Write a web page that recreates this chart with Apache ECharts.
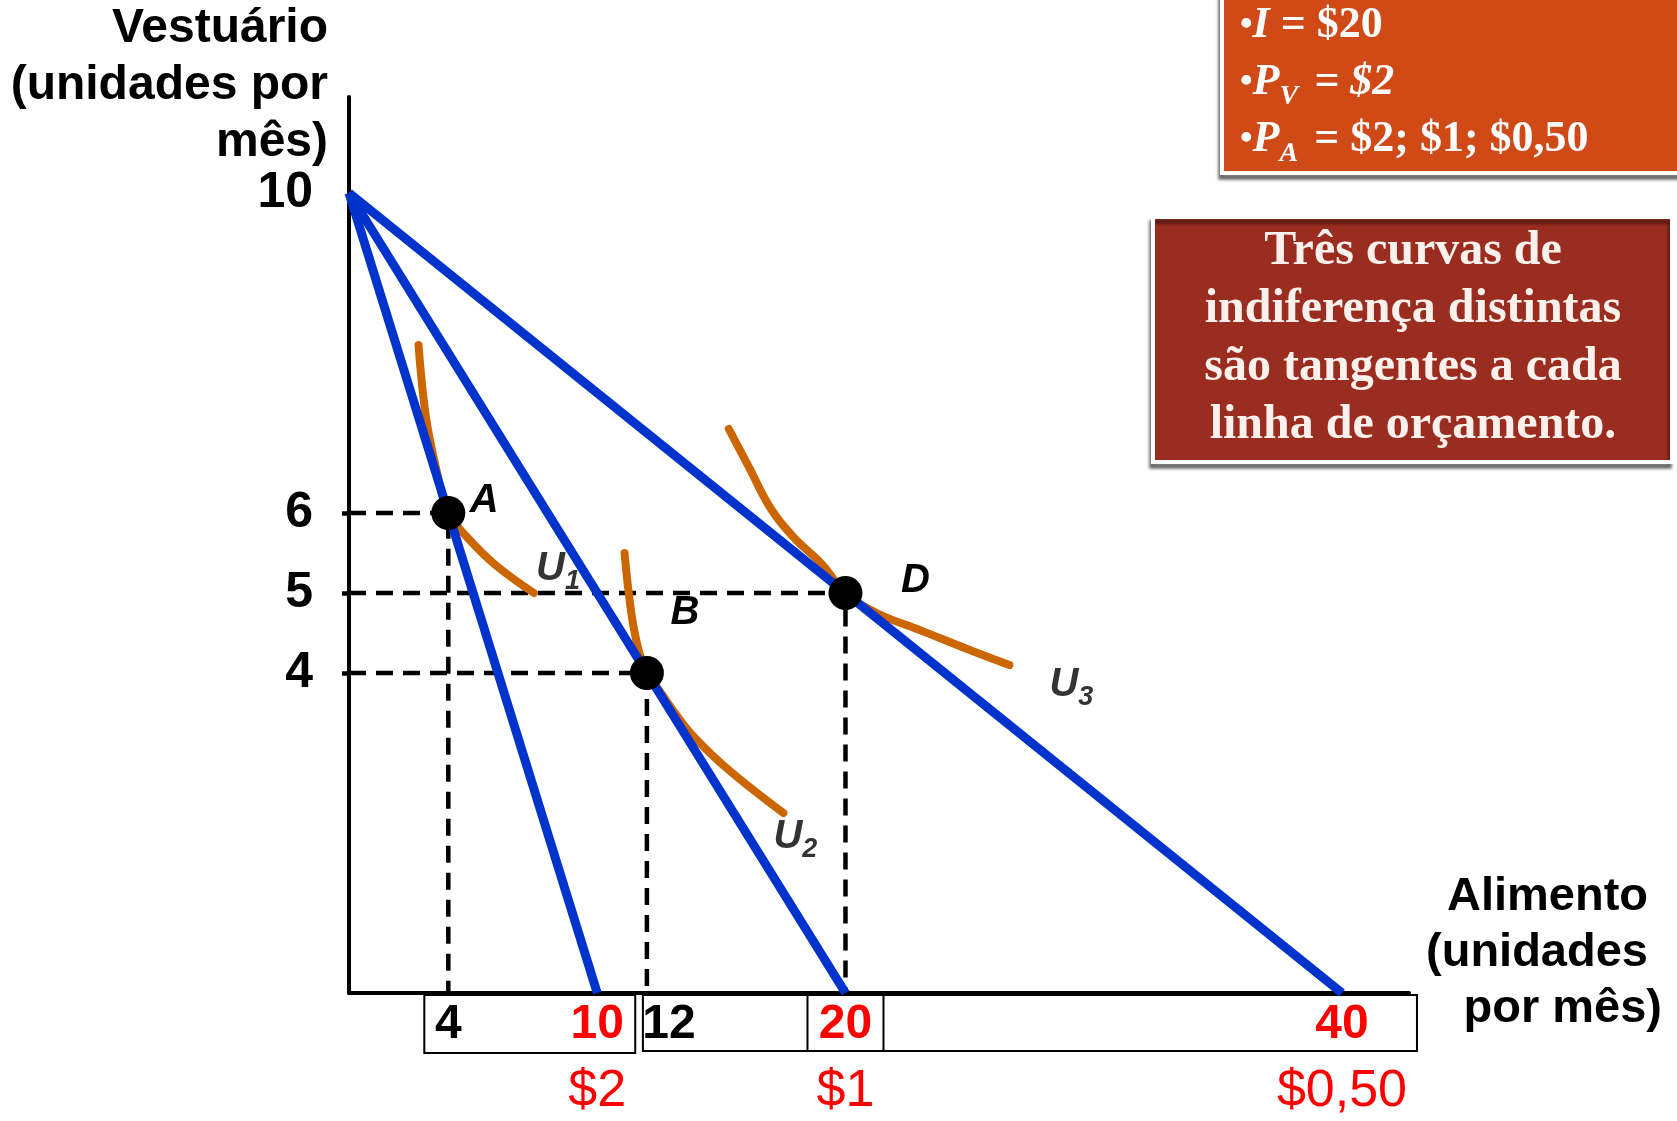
<!DOCTYPE html>
<html>
<head>
<meta charset="utf-8">
<title>Efeito de uma variação no preço do alimento</title>
<script src="https://cdn.jsdelivr.net/npm/echarts@6.0.0/dist/echarts.min.js"></script>
<style>
  html, body { margin: 0; padding: 0; background: #fff; }
  #chart { width: 1677px; height: 1121px; }
</style>
</head>
<body>
<div id="chart"></div>
<script>
// budget lines: all start at 10 units of clothing, end on the food axis
const clothingIntercept = 10
const foodIntercepts = [10, 20, 40]
const priceLabels = ['$2', '$1', '$0,50']

// chosen baskets
const pointNames = ['A', 'B', 'D']
const pointFood = [4, 12, 20]
const pointClothing = [6, 4, 5]

// indifference curves [food, clothing]
const u1 = [[2.8, 8.1], [3.1, 7.2], [3.55, 6.5], [4, 6], [4.75, 5.7], [5.9, 5.35], [7.45, 5.0]]
const u2 = [[11.1, 5.5], [11.25, 5.05], [11.45, 4.6], [11.7, 4.25], [12, 4], [12.5, 3.78], [13.2, 3.47], [13.9, 3.2], [15.25, 2.8], [17.5, 2.25]]
const u3 = [[15.3, 7.05], [16.1, 6.58], [17.0, 6.05], [17.9, 5.7], [19.05, 5.36], [20, 5], [21.25, 4.75], [23.05, 4.53], [24.9, 4.3], [26.6, 4.1]]
const curveNames = ['1', '2', '3']

// tick labels
const xTicks = [4, 10, 12, 20, 40]
const yTicks = [4, 5, 6, 10]
const yDashTicks = [4, 5, 6]

const BLUE = '#0033CC'
const ORANGE = '#CC6600'
const SANS = '"Liberation Sans", Arial, sans-serif'
const SERIF = '"Liberation Serif", "Times New Roman", serif'

const pointLabelOffsets = [[36, -12], [38, -60], [70, -12]]
const curveLabelOffsets = [[24, -24], [12, 24], [62, 20]]

const chart = echarts.init(document.getElementById('chart'))

const guideSeries = pointNames.map((n, i) => ({
  type: 'line',
  silent: true,
  symbol: 'none',
  z: 1,
  data: [[0, pointClothing[i]], [pointFood[i], pointClothing[i]], [pointFood[i], 0]],
  lineStyle: { color: '#000', width: 4.5, type: [17, 10] }
}))

const budgetSeries = foodIntercepts.map(end => ({
  type: 'line',
  symbol: 'none',
  z: 4,
  data: [[0, clothingIntercept], [end, 0]],
  lineStyle: { color: BLUE, width: 9 }
}))

const curveSeries = [u1, u2, u3].map(c => ({
  type: 'line',
  symbol: 'none',
  smooth: 0.4,
  z: 3,
  data: c,
  lineStyle: { color: ORANGE, width: 8, cap: 'round' }
}))

const curveLabelSeries = [u1, u2, u3].map((c, i) => ({
  type: 'scatter',
  symbolSize: 0,
  z: 6,
  data: [c[c.length - 1]],
  label: {
    show: true,
    position: 'inside',
    offset: curveLabelOffsets[i],
    formatter: () => `{u|U}{s|${curveNames[i]}}`,
    rich: {
      u: { fontFamily: SANS, fontWeight: 'bold', fontStyle: 'italic', fontSize: 40, color: '#000', verticalAlign: 'middle', lineHeight: 52 },
      s: { fontFamily: SANS, fontWeight: 'bold', fontStyle: 'italic', fontSize: 27, color: '#000', verticalAlign: 'bottom', lineHeight: 52 }
    }
  }
}))

const pointSeries = {
  type: 'scatter',
  symbolSize: 34,
  z: 5,
  itemStyle: { color: '#000', opacity: 1 },
  data: pointNames.map((n, i) => ({
    name: n,
    value: [pointFood[i], pointClothing[i]],
    label: { offset: pointLabelOffsets[i] }
  })),
  label: {
    show: true,
    position: 'inside',
    formatter: p => p.name,
    color: '#000',
    fontFamily: SANS,
    fontWeight: 'bold',
    fontStyle: 'italic',
    fontSize: 40
  }
}

chart.setOption({
  animation: false,
  grid: { left: 349, right: 268, top: 97, bottom: 128, containLabel: false },
  xAxis: {
    type: 'value',
    min: 0,
    max: 42.7,
    splitLine: { show: false },
    axisLine: { lineStyle: { color: '#000', width: 4 } },
    axisTick: { show: false },
    axisLabel: {
      customValues: xTicks,
      margin: 6,
      formatter: v => {
        const i = foodIntercepts.indexOf(v)
        if (i >= 0) return `{red|${v}}\n{price|${priceLabels[i]}}`
        return v === 12 ? `{shift|${v}}` : `{black|${v}}`
      },
      rich: {
        black: { fontFamily: SANS, fontWeight: 'bold', fontSize: 48, color: '#000', lineHeight: 52 },
        shift: { fontFamily: SANS, fontWeight: 'bold', fontSize: 48, color: '#000', lineHeight: 52, padding: [0, 0, 0, 44] },
        red: { fontFamily: SANS, fontWeight: 'bold', fontSize: 48, color: '#FF0000', lineHeight: 52 },
        price: { fontFamily: SANS, fontSize: 52, color: '#FF0000', lineHeight: 82 }
      }
    }
  },
  yAxis: {
    type: 'value',
    min: 0,
    max: 11.2,
    splitLine: { show: false },
    axisLine: { lineStyle: { color: '#000', width: 4 } },
    axisTick: { show: true, customValues: yDashTicks, length: 7, lineStyle: { color: '#000', width: 4.5 } },
    axisLabel: {
      customValues: yTicks,
      margin: 36,
      color: '#000',
      fontFamily: SANS,
      fontWeight: 'bold',
      fontSize: 50
    }
  },
  series: [...guideSeries, ...curveSeries, ...budgetSeries, pointSeries, ...curveLabelSeries]
})

// decorative frames around the food-axis labels, placed from the axis scale
const px = v => chart.convertToPixel({ gridIndex: 0 }, [v, 0])[0]
const frame = (x0, x1, y0, y1) => ({
  type: 'rect',
  silent: true,
  shape: { x: x0, y: y0, width: x1 - x0, height: y1 - y0 },
  style: { fill: null, stroke: '#000', lineWidth: 2 }
})

chart.setOption({
  graphic: [
    frame(px(4) - 24, px(10) + 38, 995, 1053),
    frame(px(12) - 4, px(40) + 75, 995, 1051),
    frame(px(20) - 38, px(20) + 38, 995, 1051),
    {
      type: 'text',
      silent: true,
      style: {
        x: 328, y: 0, align: 'right', verticalAlign: 'top',
        text: 'Vestuário\n(unidades por\nmês)',
        font: 'bold 48px ' + SANS, fill: '#000', lineHeight: 57
      }
    },
    {
      type: 'text',
      silent: true,
      style: {
        x: 1662, y: 869, align: 'right', verticalAlign: 'top',
        text: '{a|Alimento}\n{a|(unidades}\n{b|por mês)}',
        fill: '#000',
        rich: {
          a: { font: 'bold 47px ' + SANS, lineHeight: 56, padding: [0, 14, 0, 0] },
          b: { font: 'bold 47px ' + SANS, lineHeight: 56 }
        }
      }
    },
    {
      type: 'rect',
      silent: true,
      shape: { x: 1222, y: -12, width: 470, height: 185 },
      style: { fill: '#D04A18', stroke: '#fff', lineWidth: 4, shadowColor: 'rgba(0,0,0,0.45)', shadowBlur: 3, shadowOffsetX: -2, shadowOffsetY: 5 }
    },
    {
      type: 'text',
      silent: true,
      style: {
        x: 1240, y: -3, align: 'left', verticalAlign: 'top',
        text: '{b|•}{i|I}{n| = $20}\n{b|•}{i|P}{sv|V}{i|= $2}\n{b|•}{i|P}{sv|A}{n|= $2; $1; $0,50}',
        fill: '#fff',
        rich: {
          b: { font: 'bold 36px ' + SERIF, fill: '#fff', lineHeight: 57 },
          i: { font: 'italic bold 44px ' + SERIF, fill: '#fff', lineHeight: 57 },
          n: { font: 'bold 44px ' + SERIF, fill: '#fff', lineHeight: 57 },
          sv: { font: 'italic bold 28px ' + SERIF, fill: '#fff', lineHeight: 57, verticalAlign: 'bottom', padding: [0, 16, 0, 0] }
        }
      }
    },
    {
      type: 'rect',
      silent: true,
      shape: { x: 1153, y: 217, width: 519, height: 245 },
      style: { fill: '#9B2D20', stroke: '#fff', lineWidth: 4, shadowColor: 'rgba(0,0,0,0.45)', shadowBlur: 3, shadowOffsetX: -2, shadowOffsetY: 5 }
    },
    {
      type: 'text',
      silent: true,
      style: {
        x: 1413, y: 223, align: 'center', verticalAlign: 'top',
        text: 'Três curvas de\nindiferença distintas\nsão tangentes a cada\nlinha de orçamento.',
        font: 'bold 48px ' + SERIF, fill: '#FAF0EC', lineHeight: 58
      }
    }
  ]
})
</script>
</body>
</html>
